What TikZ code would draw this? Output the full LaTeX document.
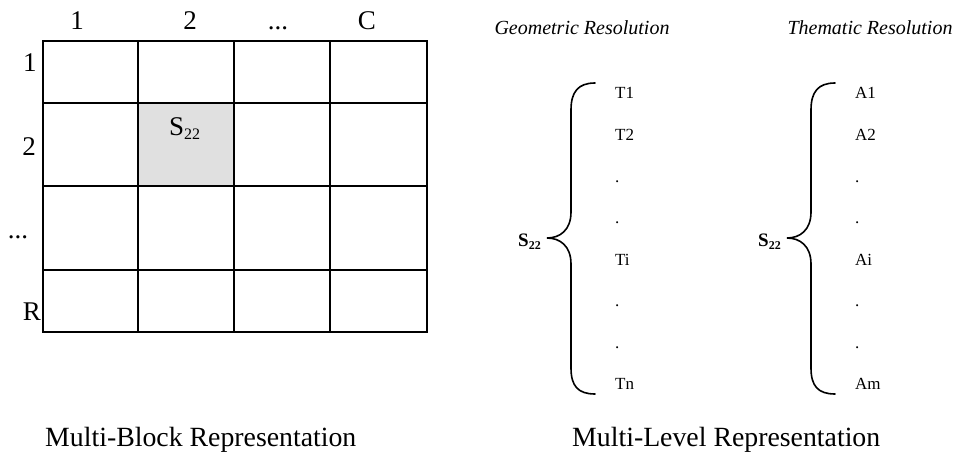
\documentclass[tikz,border=0pt]{standalone}
\usepackage{fontspec}
\setmainfont{Liberation Serif}
\begin{document}
\begin{tikzpicture}[x=1pt,y=-1pt,
  big/.style={font=\fontsize{27}{30}\selectfont, inner sep=0pt},
  captxt/.style={font=\fontsize{27.8}{30}\selectfont, inner sep=0pt, anchor=base west},
  itemtxt/.style={font=\fontsize{17}{20}\selectfont, inner sep=0pt, anchor=base west},
  hdr/.style={font=\fontsize{20}{24}\selectfont\itshape, inner sep=0pt, anchor=base},
  gridline/.style={line width=1.3pt, line cap=rect},
  bracepath/.style={line width=1.6pt, line cap=round},
  slabel/.style={font=\fontsize{19}{22}\selectfont\bfseries, inner sep=0pt, anchor=base east}]
\useasboundingbox (0,0) rectangle (956,452);
% grid
\fill[black!12] (138,103) rectangle (234,186);
\foreach \gx in {43,138,234,330,427} \draw[gridline] (\gx,41) -- (\gx,332);
\foreach \gy in {41,103,186,270,332} \draw[gridline] (43,\gy) -- (427,\gy);
% column labels
\node[big,anchor=base] (c1) at (77,30) {1};
\node[big,anchor=base] (c2) at (190,30) {2};
\node[big,anchor=base] (c3) at (278,30) {...};
\node[big,anchor=base] (c4) at (367,30) {C};
% row labels
\node[big,anchor=base] (r1) at (30,71) {1};
\node[big,anchor=base] (r2) at (29,155) {2};
\node[big,anchor=base] (r3) at (18,238) {...};
\node[big,anchor=base] (r4) at (32,320) {R};
% cell label
\node[big,anchor=base west] (s22) at (169,135) {S\raisebox{-5pt}{\fontsize{16}{16}\selectfont 22}};
% headers
\node[hdr] (hg) at (582,35) {Geometric Resolution};
\node[hdr] (ht) at (870,35) {Thematic Resolution};
% braces
\foreach \sh/\nm in {0/g,240/t} {
\begin{scope}[xshift=\sh]
\draw[bracepath] (595,83) .. controls (578,83) and (571,92) .. (571,110) -- (571,212) .. controls (571,230) and (560,238) .. (547,238) .. controls (560,238) and (571,246) .. (571,264) -- (571,368) .. controls (571,386) and (578,394) .. (595,394);
\node[slabel] (lab\nm) at (541,246) {S\raisebox{-3pt}{\fontsize{12}{12}\selectfont 22}};
\end{scope}}
% items
\foreach \txt [count=\k from 0] in {T1,T2,.,.,Ti,.,.,Tn}
  \node[itemtxt] (t\k) at (615,99+\k*41.57) {\txt};
\foreach \txt [count=\k from 0] in {A1,A2,.,.,Ai,.,.,Am}
  \node[itemtxt] (a\k) at (855,99+\k*41.57) {\txt};
% captions
\node[captxt] (cap1) at (45,446) {Multi-Block Representation};
\node[captxt] (cap2) at (572,446) {Multi-Level Representation};
\end{tikzpicture}
\end{document}
